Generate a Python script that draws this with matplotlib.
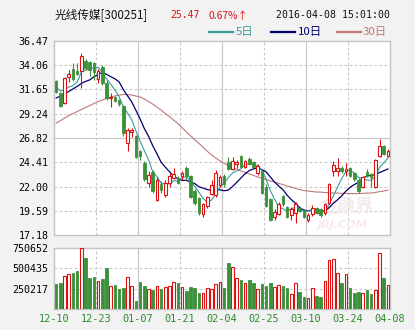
import matplotlib
matplotlib.use('Agg')
import matplotlib.pyplot as plt
from matplotlib.patches import Rectangle
from matplotlib.lines import Line2D

# ---------------- data ----------------
stock_name = "光线传媒[300251]"
last_price = "25.47"
change_pct = "0.67%↑"
timestamp = "2016-04-08 15:01:00"

x_labels = ['12-10', '12-23', '01-07', '01-21', '02-04', '02-25', '03-10', '03-24', '04-08']
price_ticks = [17.18, 19.59, 22.00, 24.41, 26.82, 29.24, 31.65, 34.06, 36.47]
vol_ticks = [250217, 500435, 750652]

opens = [32.5, 31.3, 30.3, 32.9, 33.7, 33.5, 33.5, 34.5, 34.4, 34.3,
         32.7, 33.9, 32.3, 30.8, 30.9, 30.6, 30.0, 26.3, 27.45, 27.0,
         25.5, 24.3, 22.4, 23.4, 20.7, 22.3, 21.2, 22.4, 22.85, 22.8,
         23.0, 23.8, 23.0, 21.6, 20.9, 19.3, 20.1, 21.3, 21.2, 22.2,
         23.0, 24.4, 23.7, 24.2, 25.0, 23.9, 24.7, 24.4, 23.3, 23.5,
         22.0, 20.8, 19.0, 19.3, 21.1, 20.0, 19.2, 19.4, 19.9, 19.6,
         18.7, 19.3, 19.9, 19.8, 19.4, 20.4, 23.5, 23.5, 23.8, 23.5,
         23.8, 23.3, 22.6, 22.0, 23.4, 23.2, 22.0, 25.0, 26.0, 25.0]
highs = [32.6, 31.4, 32.9, 33.6, 34.3, 34.3, 35.3, 34.7, 34.5, 34.4,
         33.7, 34.1, 32.6, 31.3, 31.0, 30.7, 30.1, 27.8, 27.8, 27.1,
         25.6, 24.5, 23.5, 23.6, 22.9, 22.5, 22.6, 23.3, 23.8, 23.0,
         23.5, 24.0, 23.1, 21.8, 21.0, 20.4, 21.1, 22.6, 23.6, 23.1,
         23.2, 24.9, 24.9, 24.6, 25.1, 24.6, 24.9, 24.5, 24.2, 23.6,
         22.3, 20.9, 19.8, 20.5, 21.2, 20.1, 20.0, 20.5, 20.0, 19.7,
         19.4, 20.2, 20.0, 19.9, 20.4, 22.4, 24.5, 24.8, 24.0, 24.3,
         23.9, 23.4, 22.8, 23.0, 23.7, 23.3, 24.7, 26.7, 26.1, 25.7]
lows = [31.3, 29.9, 30.2, 32.4, 32.5, 33.1, 31.8, 33.6, 33.0, 32.6,
        32.3, 32.1, 30.6, 29.9, 30.4, 30.0, 27.0, 25.5, 26.9, 24.8,
        24.6, 22.5, 22.0, 21.4, 20.6, 21.4, 21.0, 22.0, 22.7, 22.3,
        22.6, 22.7, 20.9, 20.2, 19.2, 19.0, 19.9, 21.2, 21.0, 22.0,
        22.0, 23.6, 23.6, 23.8, 23.8, 23.8, 24.1, 23.8, 23.1, 21.3,
        20.0, 18.6, 18.7, 19.2, 20.1, 18.9, 18.7, 18.4, 19.5, 18.9,
        18.5, 19.1, 19.3, 19.0, 19.2, 20.3, 23.0, 23.0, 23.3, 23.0,
        22.9, 22.5, 21.4, 21.9, 22.9, 22.0, 21.9, 24.9, 25.1, 24.9]
closes = [31.4, 30.0, 32.8, 33.2, 32.7, 33.2, 35.0, 33.8, 33.6, 33.4,
          33.5, 32.3, 30.8, 30.95, 30.5, 30.2, 27.3, 27.6, 27.65, 24.95,
          25.0, 22.7, 23.1, 21.6, 22.6, 21.7, 22.4, 23.0, 23.2, 22.4,
          23.3, 23.0, 21.0, 20.4, 19.4, 20.3, 21.0, 22.2, 23.3, 22.9,
          22.3, 23.7, 24.5, 24.4, 23.9, 24.5, 24.2, 23.9, 24.0, 21.4,
          20.1, 18.7, 19.5, 20.3, 20.3, 19.0, 19.8, 20.3, 19.6, 19.0,
          19.2, 19.9, 19.4, 19.2, 20.3, 22.3, 24.1, 23.8, 23.5, 23.7,
          23.0, 22.7, 21.6, 22.9, 23.0, 22.9, 24.6, 26.0, 25.2, 25.5]
volumes = [307000, 319000, 402000, 427000, 444000, 469000, 750652, 630000, 382000, 394000,
           344000, 369000, 506000, 278000, 294000, 249000, 257000, 390000, 278000, 95000,
           332000, 282000, 245000, 232000, 278000, 245000, 265000, 282000, 328000, 319000,
           265000, 220000, 270000, 257000, 195000, 191000, 253000, 245000, 303000, 328000,
           257000, 568000, 514000, 377000, 357000, 315000, 357000, 319000, 245000, 307000,
           286000, 319000, 265000, 290000, 282000, 261000, 182000, 315000, 207000, 149000,
           133000, 257000, 158000, 149000, 344000, 606000, 618000, 444000, 319000, 431000,
           257000, 195000, 207000, 195000, 232000, 182000, 232000, 688000, 382000, 294000]
ma5 = [31.9, 31.5, 31.6, 31.9, 32.02, 32.38, 33.38, 33.58, 33.66, 33.8,
       33.86, 33.32, 32.72, 32.19, 31.61, 30.95, 29.95, 29.31, 28.65, 27.54,
       26.5, 25.58, 24.68, 23.47, 23.0, 22.34, 22.28, 22.26, 22.58, 22.54,
       22.86, 22.98, 22.58, 22.02, 21.42, 20.82, 20.42, 20.66, 21.24, 21.94,
       22.34, 22.88, 23.34, 23.56, 23.76, 24.2, 24.3, 24.18, 24.1, 23.6,
       22.72, 21.62, 20.74, 20.0, 19.78, 19.56, 19.78, 19.94, 19.8, 19.54,
       19.58, 19.6, 19.42, 19.34, 19.6, 20.22, 21.06, 21.94, 22.8, 23.48,
       23.62, 23.34, 22.9, 22.78, 22.64, 22.62, 23.0, 23.88, 24.34, 24.84]
ma10 = [30.8, 31.0, 31.2, 31.45, 31.7, 31.95, 32.25, 32.45, 32.6, 32.91,
        33.12, 33.35, 33.15, 32.93, 32.71, 32.41, 31.64, 31.02, 30.42, 29.58,
        28.73, 27.77, 27.0, 26.06, 25.27, 24.42, 23.93, 23.47, 23.03, 22.77,
        22.6, 22.63, 22.42, 22.3, 21.98, 21.84, 21.7, 21.62, 21.63, 21.68,
        21.58, 21.65, 22.0, 22.4, 22.85, 23.27, 23.59, 23.76, 23.83, 23.68,
        23.46, 22.96, 22.46, 22.05, 21.69, 21.14, 20.7, 20.34, 19.9, 19.66,
        19.57, 19.69, 19.68, 19.57, 19.57, 19.9, 20.33, 20.68, 21.07, 21.54,
        21.92, 22.2, 22.42, 22.79, 23.06, 23.12, 23.17, 23.39, 23.56, 23.75]
ma30 = [28.3, 28.55, 28.8, 29.05, 29.25, 29.45, 29.65, 29.85, 30.05, 30.25,
        30.45, 30.6, 30.75, 30.9, 31.0, 31.1, 31.15, 31.15, 31.1, 31.0,
        30.9, 30.7, 30.45, 30.2, 29.9, 29.6, 29.25, 28.95, 28.6, 28.25,
        27.85, 27.45, 27.05, 26.65, 26.3, 25.9, 25.5, 25.15, 24.85, 24.55,
        24.3, 24.1, 23.9, 23.7, 23.55, 23.4, 23.25, 23.1, 22.95, 22.82,
        22.7, 22.55, 22.45, 22.3, 22.2, 22.05, 21.95, 21.8, 21.7, 21.6,
        21.55, 21.5, 21.45, 21.45, 21.4, 21.4, 21.35, 21.35, 21.32, 21.32,
        21.3, 21.3, 21.3, 21.32, 21.35, 21.35, 21.4, 21.5, 21.55, 21.65]

# ---------------- style ----------------
W, H = 415, 330
BG = '#f2f2f2'
RED = '#dd1111'
GREEN = '#3a913a'
GRID = '#c8c8c8'
C5 = '#3a9c9c'
C10 = '#000070'
C30 = '#c07878'
MONO = 'DejaVu Sans Mono'
CJK = ['Noto Sans CJK SC', 'DejaVu Sans']

fig = plt.figure(figsize=(W / 100, H / 100), dpi=100, facecolor=BG)

def fx(px):
    return px / W

def fy(py):
    return 1 - py / H

L, R = 54, 390
ax = fig.add_axes([fx(L), fy(235), fx(R) - fx(L), fy(41) - fy(235)])
axv = fig.add_axes([fx(L), fy(308.7), fx(R) - fx(L), fy(248.3) - fy(308.7)])

n = len(closes)
xs = list(range(n))
bw = 0.66

for a in (ax, axv):
    a.set_facecolor('white')
    a.set_xlim(-0.5, n - 0.5)
    for s in a.spines.values():
        s.set_color('#c4c4c4')
        s.set_linewidth(1.0)
    a.tick_params(length=0)
    for k in range(1, 8):
        xv = -0.5 + 10 * k
        if k % 2 == 0:
            a.axvline(xv, color=GRID, lw=0.9, zorder=0)
        else:
            a.axvline(xv, color=GRID, lw=0.8, ls=(0, (2.5, 2)), zorder=0)

# price grid
ax.set_ylim(price_ticks[0], price_ticks[-1])
for k, yv in enumerate(price_ticks[1:-1], start=1):
    if k == 4:
        ax.axhline(yv, color=GRID, lw=0.9, zorder=0)
    else:
        ax.axhline(yv, color=GRID, lw=0.8, ls=(0, (2.5, 2)), zorder=0)
ax.set_yticks(price_ticks)
ax.set_yticklabels(['%.2f' % v for v in price_ticks], fontfamily=MONO, fontsize=7.2)
ax.tick_params(axis='y', pad=4)
ax.set_xticks([])

# watermark
ax.text(0.87, 0.15, '金融界', transform=ax.transAxes, ha='center', va='center',
        fontsize=13, color='#f7eaea', family=CJK, fontweight='bold', zorder=0.5)
ax.text(0.86, 0.05, 'JRJ.COM', transform=ax.transAxes, ha='center', va='center',
        fontsize=8, color='#f7eaea', fontweight='bold', style='italic', zorder=0.5)

# MA lines
ax.plot(xs, ma30, color=C30, lw=0.8, zorder=2)
ax.plot(xs, ma10, color=C10, lw=0.9, zorder=2)
ax.plot(xs, ma5, color=C5, lw=0.8, zorder=2)

# candles
for i in range(n):
    o, h, l, c = opens[i], highs[i], lows[i], closes[i]
    if c >= o:
        ax.vlines(i, l, o, color=RED, lw=0.8, zorder=3)
        ax.vlines(i, c, h, color=RED, lw=0.8, zorder=3)
        ax.add_patch(Rectangle((i - bw / 2, o), bw, max(c - o, 0.04),
                               facecolor='white', edgecolor=RED, lw=0.8, zorder=4))
    else:
        ax.vlines(i, l, h, color=GREEN, lw=0.8, zorder=3)
        ax.add_patch(Rectangle((i - bw / 2, c), bw, o - c,
                               facecolor=GREEN, edgecolor=GREEN, lw=0.6, zorder=4))

# volume
axv.set_ylim(0, vol_ticks[-1])
for yv in vol_ticks[:-1]:
    axv.axhline(yv, color=GRID, lw=0.8, ls=(0, (2.5, 2)), zorder=0)
for i in range(n):
    if closes[i] >= opens[i]:
        axv.bar(i, volumes[i], width=bw, facecolor='white', edgecolor=RED, lw=0.8, zorder=3)
    else:
        axv.bar(i, volumes[i], width=bw, facecolor=GREEN, edgecolor=GREEN, lw=0.6, zorder=3)
axv.set_yticks(vol_ticks)
axv.set_yticklabels([str(v) for v in vol_ticks], fontfamily=MONO, fontsize=7.2)
axv.tick_params(axis='y', pad=4)
axv.set_xticks([-0.5 + 10 * k for k in range(9)])
axv.set_xticklabels(x_labels, fontfamily=MONO, fontsize=7.4, color='#2e8a2e')
axv.tick_params(axis='x', pad=4)

# header
yh = 15.5
fig.text(fx(55), fy(yh), stock_name, family=CJK, fontsize=8.4, color='#111111', va='center', ha='left')
fig.text(fx(170), fy(yh), last_price, family=MONO, fontsize=7.0, color=RED, va='center', ha='left')
fig.text(fx(208), fy(yh), change_pct, family=CJK, fontsize=7.4, color=RED, va='center', ha='left')
fig.text(fx(276), fy(yh), timestamp, family=MONO, fontsize=7.1, color='#111111', va='center', ha='left')

yl = 32.3
for (x0, x1, tx, col, lab) in [(209, 233, 236, C5, '5日'), (271, 295, 298, C10, '10日'),
                               (337, 361, 363, C30, '30日')]:
    fig.add_artist(Line2D([fx(x0), fx(x1)], [fy(yl), fy(yl)], color=col, lw=1.6))
    fig.text(fx(tx), fy(yl), lab, family=CJK, fontsize=8.2, color=col, va='center', ha='left')

fig.savefig('out.png', dpi=100, facecolor=BG)
